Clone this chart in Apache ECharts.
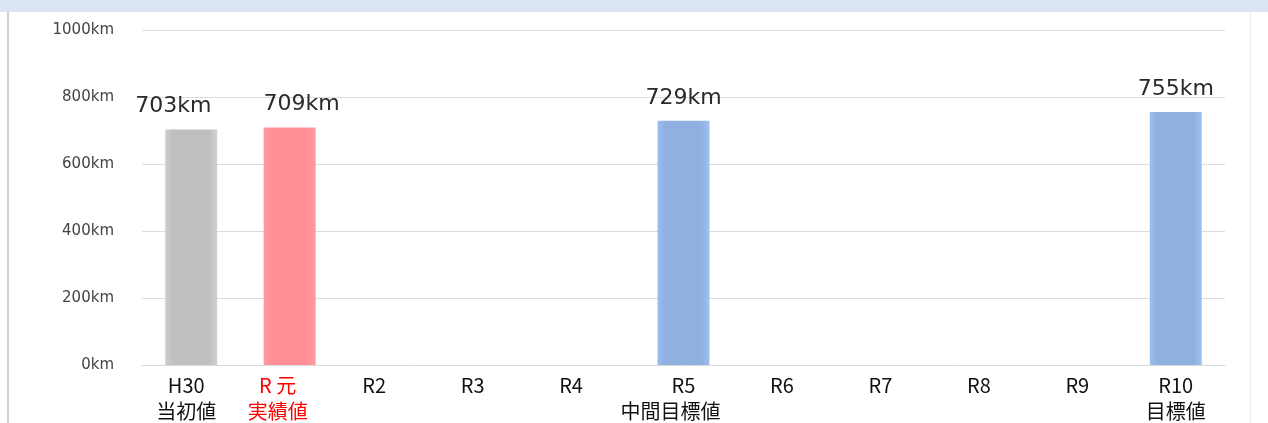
<!DOCTYPE html>
<html>
<head>
<meta charset="utf-8">
<script src="https://cdn.jsdelivr.net/npm/echarts@6/dist/echarts.min.js"></script>
<style>
html,body{margin:0;padding:0;background:#fff;}
#c{width:1268px;height:423px;}
</style>
</head>
<body>
<div id="c"></div>
<script>
const categories = ['H30','R 元','R2','R3','R4','R5','R6','R7','R8','R9','R10'];
const subLabels = ['当初値','実績値','','','','中間目標値','','','','','目標値'];
const values = [703, 709, null, null, null, 729, null, null, null, null, 755];
const barColors = ['#bfbfbf','#ff8f94',null,null,null,'#8fb0e0',null,null,null,null,'#8fb0e0'];
const yTicks = [0, 200, 400, 600, 800, 1000];

function grad(c){
  return new echarts.graphic.LinearGradient(0,0,1,0,[
    {offset:0,color:echarts.color.lift(c,-0.08)},
    {offset:0.15,color:c},
    {offset:0.85,color:c},
    {offset:1,color:echarts.color.lift(c,-0.1)}
  ]);
}

const CJK = '"Noto Sans CJK JP", "Noto Sans", sans-serif';
const chart = echarts.init(document.getElementById('c'));
chart.setOption({
  animation:false,
  backgroundColor:'#ffffff',
  textStyle:{fontFamily:CJK},
  graphic:[
    {type:'rect',shape:{x:0,y:0,width:1268,height:12},style:{fill:'#dce6f2'},z:-1},
    {type:'rect',shape:{x:7,y:12,width:2,height:411},style:{fill:'#d0d0d0'},z:-1},
    {type:'rect',shape:{x:1250,y:12,width:1,height:411},style:{fill:'#ececec'},z:-1}
  ],
  grid:{left:142,right:43,top:30,bottom:58,containLabel:false},
  xAxis:{
    type:'category',
    data:categories,
    axisLine:{show:true,lineStyle:{color:'#d9d9d9'}},
    axisTick:{show:false},
    axisLabel:{
      margin:7,
      interval:0,
      formatter:function(v,i){
        const s = subLabels[i];
        let st = i===1 ? 'r' : 'b';
        if (i>=1 && i<=4) st += 's';
        if (i===0) st += 't';
        let st2 = (i===5) ? 'bm' : st;
        return s ? '{'+st+'|'+v+'}\n{'+st2+'|'+s+'}' : '{'+st+'|'+v+'}';
      },
      rich:{
        b:{fontSize:20,color:'#111',lineHeight:26,fontFamily:CJK},
        bm:{fontSize:20,color:'#111',lineHeight:26,fontFamily:CJK,padding:[0,26,0,0]},
        bt:{fontSize:20,color:'#111',lineHeight:26,fontFamily:CJK,padding:[0,10,0,0]},
        bs:{fontSize:20,color:'#111',lineHeight:26,fontFamily:CJK,padding:[0,28,0,0]},
        rs:{fontSize:20,color:'#ff0000',lineHeight:26,fontFamily:CJK,padding:[0,24,0,0]}
      }
    }
  },
  yAxis:{
    type:'value',
    min:0,max:1000,interval:200,
    axisLine:{show:false},
    axisTick:{show:false},
    splitLine:{lineStyle:{color:'#dcdcdc',width:1}},
    axisLabel:{margin:28,fontSize:15,color:'#444',fontFamily:'"DejaVu Sans", sans-serif',formatter:function(v){return v+'km';}}
  },
  series:[{
    type:'bar',
    barWidth:52,
    data:values.map(function(v,i){
      if (v==null) return null;
      const item = {value:v,itemStyle:{color:grad(barColors[i])}};
      if (i===0) item.label = {offset:[-18,0]};
      if (i===1) item.label = {offset:[12,0]};
      return item;
    }),
    label:{
      show:true,position:'top',distance:12,
      fontSize:22,color:'#2a2a2a',
      fontFamily:'"DejaVu Sans", sans-serif',
      formatter:function(p){return p.value+'km';}
    }
  }]
});
</script>
</body>
</html>
